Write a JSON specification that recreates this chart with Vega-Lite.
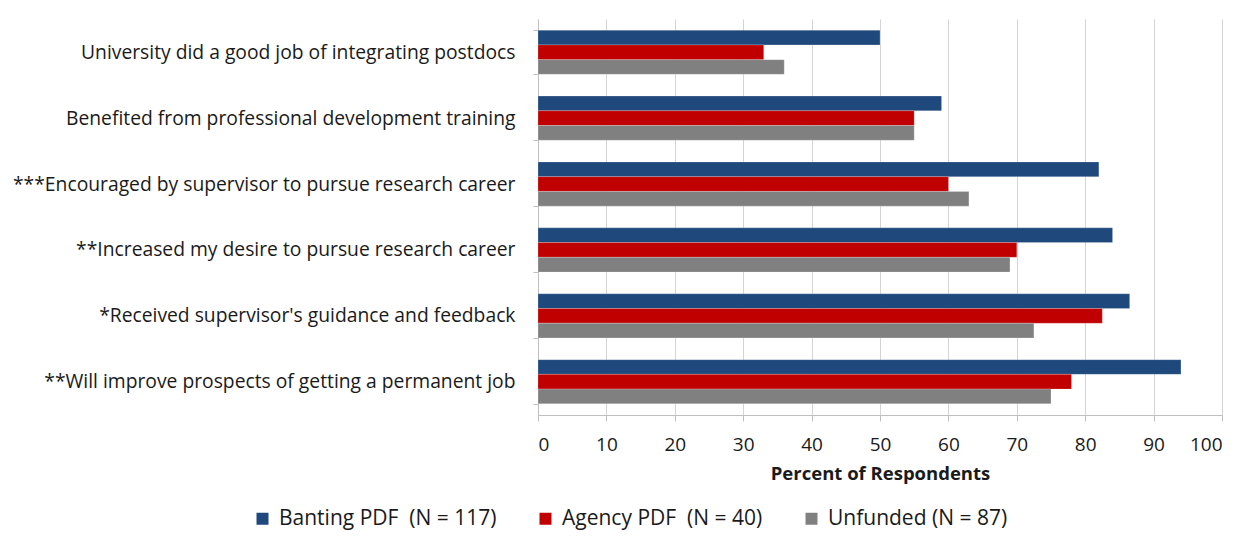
{
  "$schema": "https://vega.github.io/schema/vega-lite/v6.json",
  "autosize": "none",
  "width": 684,
  "height": 396,
  "padding": {"left": 538, "top": 19, "right": 28, "bottom": 127},
  "background": "white",
  "config": {
    "font": "Open Sans",
    "view": {"stroke": null}
  },
  "data": {
    "values": [
      {"item": "University did a good job of integrating postdocs", "group": "Banting PDF\u00a0\u00a0(N = 117)", "value": 50},
      {"item": "University did a good job of integrating postdocs", "group": "Agency PDF\u00a0\u00a0(N = 40)", "value": 33},
      {"item": "University did a good job of integrating postdocs", "group": "Unfunded (N = 87)", "value": 36},
      {"item": "Benefited from professional development training", "group": "Banting PDF\u00a0\u00a0(N = 117)", "value": 59},
      {"item": "Benefited from professional development training", "group": "Agency PDF\u00a0\u00a0(N = 40)", "value": 55},
      {"item": "Benefited from professional development training", "group": "Unfunded (N = 87)", "value": 55},
      {"item": "***Encouraged by supervisor to pursue research career", "group": "Banting PDF\u00a0\u00a0(N = 117)", "value": 82},
      {"item": "***Encouraged by supervisor to pursue research career", "group": "Agency PDF\u00a0\u00a0(N = 40)", "value": 60},
      {"item": "***Encouraged by supervisor to pursue research career", "group": "Unfunded (N = 87)", "value": 63},
      {"item": "**Increased my desire to pursue research career", "group": "Banting PDF\u00a0\u00a0(N = 117)", "value": 84},
      {"item": "**Increased my desire to pursue research career", "group": "Agency PDF\u00a0\u00a0(N = 40)", "value": 70},
      {"item": "**Increased my desire to pursue research career", "group": "Unfunded (N = 87)", "value": 69},
      {"item": "*Received supervisor's guidance and feedback", "group": "Banting PDF\u00a0\u00a0(N = 117)", "value": 86.5},
      {"item": "*Received supervisor's guidance and feedback", "group": "Agency PDF\u00a0\u00a0(N = 40)", "value": 82.5},
      {"item": "*Received supervisor's guidance and feedback", "group": "Unfunded (N = 87)", "value": 72.5},
      {"item": "**Will improve prospects of getting a permanent job", "group": "Banting PDF\u00a0\u00a0(N = 117)", "value": 94},
      {"item": "**Will improve prospects of getting a permanent job", "group": "Agency PDF\u00a0\u00a0(N = 40)", "value": 78},
      {"item": "**Will improve prospects of getting a permanent job", "group": "Unfunded (N = 87)", "value": 75}
    ]
  },
  "mark": {"type": "bar", "stroke": "#ffffff", "strokeOpacity": 0.35, "strokeWidth": 0.6},
  "encoding": {
    "y": {
      "field": "item",
      "type": "nominal",
      "sort": null,
      "scale": {"paddingInner": 0.33, "paddingOuter": 0.17},
      "axis": {
        "title": null,
        "labelFontSize": 19.3,
        "labelColor": "#1a1a1a",
        "labelPadding": 18,
        "labelLimit": 600,
        "tickBand": "extent",
        "tickSize": 5,
        "tickColor": "#BFBFBF",
        "domainColor": "#BFBFBF",
        "grid": false
      }
    },
    "yOffset": {
      "field": "group",
      "type": "nominal",
      "sort": ["Banting PDF\u00a0\u00a0(N = 117)", "Agency PDF\u00a0\u00a0(N = 40)", "Unfunded (N = 87)"],
      "scale": {"paddingInner": 0, "paddingOuter": 0}
    },
    "x": {
      "field": "value",
      "type": "quantitative",
      "scale": {"domain": [0, 100], "nice": false},
      "axis": {
        "title": "Percent of Respondents",
        "titleFontSize": 18.5,
        "titleFontWeight": "bold",
        "titleColor": "#1a1a1a",
        "titlePadding": 10,
        "values": [0, 10, 20, 30, 40, 50, 60, 70, 80, 90, 100],
        "labelFontSize": 19,
        "labelColor": "#1a1a1a",
        "labelPadding": 14,
        "tickSize": 6,
        "tickColor": "#BFBFBF",
        "domainColor": "#BFBFBF",
        "gridColor": "#D4D4D4",
        "grid": true
      }
    },
    "color": {
      "field": "group",
      "type": "nominal",
      "sort": ["Banting PDF\u00a0\u00a0(N = 117)", "Agency PDF\u00a0\u00a0(N = 40)", "Unfunded (N = 87)"],
      "scale": {
        "domain": ["Banting PDF\u00a0\u00a0(N = 117)", "Agency PDF\u00a0\u00a0(N = 40)", "Unfunded (N = 87)"],
        "range": ["#1F497D", "#C00000", "#808080"]
      },
      "legend": {
        "title": null,
        "orient": "none",
        "direction": "horizontal",
        "legendX": -286,
        "legendY": 489,
        "symbolType": "square",
        "symbolSize": 144,
        "symbolStrokeWidth": 0,
        "labelFontSize": 21,
        "labelColor": "#1a1a1a",
        "labelLimit": 400,
        "columnPadding": 38,
        "labelOffset": 6
      }
    }
  }
}
